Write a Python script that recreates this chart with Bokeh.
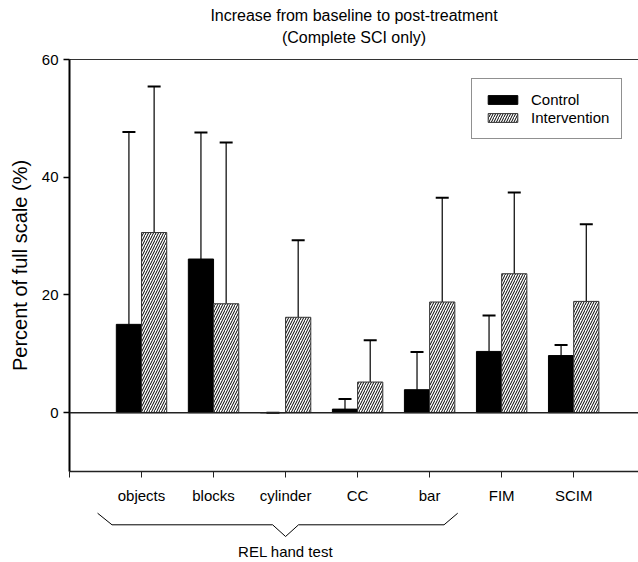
import numpy as np
from bokeh.plotting import figure
from bokeh.layouts import column
from bokeh.models import (ColumnDataSource, Range1d, FixedTicker, LinearAxis, Span,
                          Whisker, TeeHead, Legend, LegendItem, Title)
from bokeh.core.properties import value
from bokeh.embed import file_html
from bokeh.resources import INLINE

# ---------------- data ----------------
categories = ["objects", "blocks", "cylinder", "CC", "bar", "FIM", "SCIM"]
control = [15.0, 26.1, 0.0, 0.6, 3.9, 10.4, 9.7]
control_err = [32.7, 21.5, 0.0, 1.7, 6.4, 6.1, 1.8]
intervention = [30.6, 18.5, 16.2, 5.2, 18.8, 23.6, 18.9]
intervention_err = [24.8, 27.4, 13.1, 7.1, 17.7, 13.8, 13.1]
y_ticks = [0, 20, 40, 60]
title_lines = ["Increase from baseline to post-treatment", "(Complete SCI only)"]
group_label = "REL hand test"
group_members = ["objects", "blocks", "cylinder", "CC", "bar"]

FONT = "Liberation Sans"
BAR_W = 0.35

idx = np.arange(1, len(categories) + 1)
ctrl_x = idx - BAR_W / 2
int_x = idx + BAR_W / 2

src_c = ColumnDataSource(dict(x=ctrl_x, top=control,
                              upper=np.array(control) + np.array(control_err)))
src_i = ColumnDataSource(dict(x=int_x, top=intervention,
                              upper=np.array(intervention) + np.array(intervention_err)))

p = figure(frame_width=569, frame_height=412, x_range=Range1d(0, 7.9),
           y_range=Range1d(-10, 60), output_backend="svg", toolbar_location=None,
           min_border_left=69, min_border_right=0, min_border_top=59,
           min_border_bottom=34, title=None, x_axis_type=None, y_axis_type=None)
p.outline_line_color = None
p.xgrid.visible = False
p.ygrid.visible = False

# top border line as an empty axis (added first so it sits on the frame edge)
tax = LinearAxis(major_tick_line_color=None, minor_tick_line_color=None,
                 major_label_text_font_size="0px", axis_line_color="#333333",
                 axis_line_width=1.2, major_tick_out=0, major_tick_in=0,
                 minor_tick_out=0, minor_tick_in=0, major_label_standoff=0)
tax.ticker = FixedTicker(ticks=[])
p.add_layout(tax, "above")

# small blank spacer between the frame and the title
p.add_layout(Title(text=" ", text_font_size="1px", standoff=7), "above")

# two-line title
p.add_layout(Title(text="\n".join(title_lines), align="center", text_align="center",
                   text_font=FONT, text_font_size="16px", text_font_style="normal",
                   text_color="black", text_line_height=1.3, standoff=6), "above")

# y axis
yax = LinearAxis(ticker=FixedTicker(ticks=y_ticks), axis_label="Percent of full scale (%)")
yax.axis_label_text_font = FONT
yax.axis_label_text_font_size = "20px"
yax.axis_label_text_font_style = "normal"
yax.axis_label_text_color = "black"
yax.axis_label_standoff = 8
yax.major_label_text_font = FONT
yax.major_label_text_font_size = "15px"
yax.major_label_text_color = "black"
yax.major_label_standoff = 5
yax.major_tick_out = 6
yax.major_tick_in = 0
yax.minor_tick_line_color = None
yax.axis_line_width = 2
yax.axis_line_color = "black"
yax.major_tick_line_color = "black"
yax.major_tick_line_width = 1.5
p.add_layout(yax, "left")

# x axis
xax = LinearAxis(ticker=FixedTicker(ticks=[0] + list(idx)))
overrides = {0: ""}
for i, c in zip(idx, categories):
    overrides[int(i)] = c
xax.major_label_overrides = overrides
xax.major_label_text_font = FONT
xax.major_label_text_font_size = "15px"
xax.major_label_text_color = "black"
xax.major_label_standoff = 9
xax.major_tick_out = 6
xax.major_tick_in = 0
xax.minor_tick_line_color = None
xax.axis_line_width = 1.5
xax.axis_line_color = "#222222"
xax.major_tick_line_color = "#222222"
p.add_layout(xax, "below")

# zero line
p.add_layout(Span(location=0, dimension="width", line_color="#222222", line_width=1.5))

# bars
rc = p.vbar(x="x", top="top", bottom=0, width=BAR_W, source=src_c,
            fill_color="black", line_color="black", line_width=1)
ri = p.vbar(x="x", top="top", bottom=0, width=BAR_W, source=src_i,
            fill_color="white", line_color="#333333", line_width=1,
            hatch_pattern="/", hatch_color="black", hatch_scale=5, hatch_weight=1)

# error bars
for src in (src_c, src_i):
    w = Whisker(base="x", lower="top", upper="upper", source=src, dimension="height",
                line_color="black", line_width=1.2, lower_head=None,
                upper_head=TeeHead(size=13, line_width=2, line_color="black"))
    p.add_layout(w)

legend = Legend(items=[LegendItem(label="Control", renderers=[rc]),
                       LegendItem(label="Intervention", renderers=[ri])],
                location=(402, 332), glyph_width=37, glyph_height=11,
                label_height=14, label_standoff=10, padding=12, spacing=1, margin=0,
                label_text_font=FONT, label_text_font_size="15px",
                label_text_color="black", border_line_color="#222222",
                border_line_width=1, background_fill_color="white",
                background_fill_alpha=1)
p.add_layout(legend, "center")

# ---------------- brace figure ----------------
p2 = figure(frame_width=569, frame_height=57, x_range=p.x_range, y_range=Range1d(57, 0),
            output_backend="svg", toolbar_location=None, min_border_left=69,
            min_border_right=0, min_border_top=0, min_border_bottom=0,
            x_axis_type=None, y_axis_type=None)
p2.outline_line_color = None
p2.xgrid.visible = False
p2.ygrid.visible = False

first = categories.index(group_members[0]) + 1
last = categories.index(group_members[-1]) + 1
mid = (first + last) / 2
bx = [first - 0.61, first - 0.41, mid - 0.18, mid, mid + 0.18, last + 0.2, last + 0.39]
by = [6.7, 18.3, 18.3, 30, 18.3, 18.3, 6.7]
p2.line(bx, by, line_color="black", line_width=1)
p2.text(x=[mid], y=[45], text=[group_label], text_align="center", text_baseline="middle",
        text_font=value(FONT), text_font_size="15px", text_color="black")

layout = column(p, p2, spacing=0)
open("out.html", "w").write(file_html(layout, INLINE))
